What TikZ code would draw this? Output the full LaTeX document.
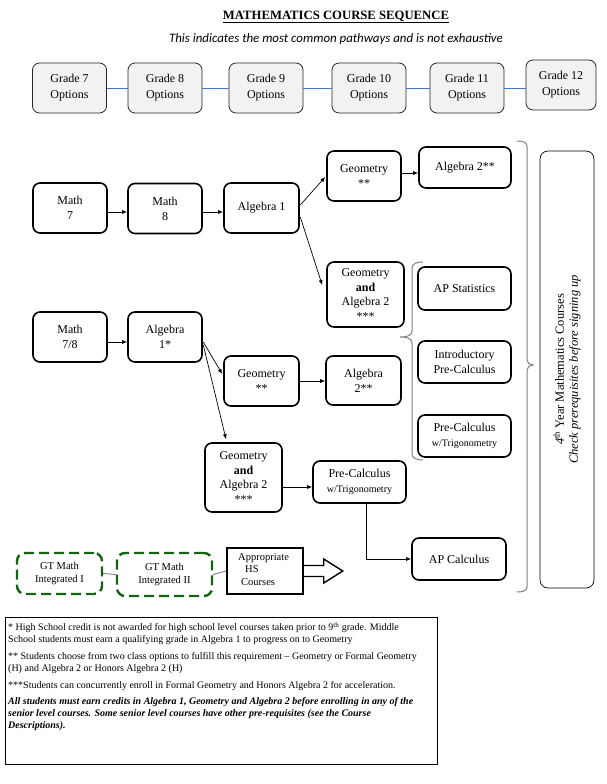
\documentclass[tikz,border=0pt]{standalone}
\usepackage{fontspec}
\setmainfont{Liberation Serif}
\newfontfamily\calibri{Carlito}
\usetikzlibrary{arrows.meta,calc}
\definecolor{gtgreen}{RGB}{20,100,20}
\definecolor{linkblue}{RGB}{68,114,196}
\begin{document}
\begin{tikzpicture}[x=1pt,y=-1pt,
  course/.style={draw, line width=1.6pt, rounded corners=7pt, fill=white, align=center, inner sep=0pt, font=\fontsize{12}{15}\selectfont},
  grade/.style={draw=black!85, line width=0.8pt, rounded corners=7pt, fill=gray!10, align=center, inner sep=0pt, minimum width=74pt, minimum height=50pt, font=\fontsize{12}{16}\selectfont},
  arr/.style={-{Latex[length=5pt,width=4pt]}, line width=0.7pt},
  gtbox/.style={draw=gtgreen, line width=2.4pt, dash pattern=on 10pt off 5pt, rounded corners=8pt, align=center, inner sep=0pt, font=\fontsize{10.5}{13}\selectfont},
  bracepath/.style={draw=gray, line width=1pt},
  link/.style={draw=linkblue, line width=0.9pt},
  glink/.style={draw=gray, line width=0.9pt}]
\fill[white] (0,0) rectangle (607,784);
\useasboundingbox (0,0) rectangle (607,784);

% title
\node[font=\fontsize{12.7}{14}\selectfont\bfseries] (title) at (336,17) {\underline{MATHEMATICS COURSE SEQUENCE}};
\node[font=\fontsize{12.9}{14}\selectfont\calibri\itshape] (sub) at (336,39) {This indicates the most common pathways and is not exhaustive};

% grade row
\node[grade] (g7) at (69.5,88) {Grade 7\\Options};
\node[grade] (g8) at (165,88) {Grade 8\\Options};
\node[grade] (g9) at (266,88) {Grade 9\\Options};
\node[grade] (g10) at (369,88) {Grade 10\\Options};
\node[grade] (g11) at (467,88) {Grade 11\\Options};
\node[grade, minimum width=70pt] (g12) at (561,85) {Grade 12\\Options};
\draw[link] (g7.east) -- (g8.west);
\draw[link] (g8.east) -- (g9.west);
\draw[link] (g9.east) -- (g10.west);
\draw[link] (g10.east) -- (g11.west);
\draw[link] (g11.east) -- (g11.east -| g12.west);

% upper path
\node[course, minimum width=74pt, minimum height=50pt] (m7) at (70,208) {Math\\7};
\node[course, minimum width=74pt, minimum height=50pt] (m8) at (165,208.5) {Math\\8};
\node[course, minimum width=75pt, minimum height=50pt] (a1) at (261.5,208) {Algebra 1};
\node[course, minimum width=74pt, minimum height=50pt] (geo1) at (364,176) {Geometry\\**};
\node[course, minimum width=92pt, minimum height=41pt] (alg2a) at (465,167.5) {Algebra 2**};
\node[course, minimum width=77pt, minimum height=65pt, font=\fontsize{12}{14.5}\selectfont] (ga2a) at (365.5,294.5) {Geometry\\\textbf{and}\\Algebra 2\\***};
\node[course, minimum width=93pt, minimum height=43pt] (apstat) at (464.5,288.5) {AP Statistics};
\node[course, minimum width=93pt, minimum height=42pt] (intro) at (464.5,362) {Introductory\\Pre-Calculus};
\node[course, minimum width=93pt, minimum height=42pt] (pcr) at (464.5,436) {Pre-Calculus\\{\fontsize{10}{12}\selectfont w/Trigonometry}};

% lower path
\node[course, minimum width=74pt, minimum height=50pt] (m78) at (70,337) {Math\\7/8};
\node[course, minimum width=74pt, minimum height=50pt] (a1s) at (165,337) {Algebra\\1*};
\node[course, minimum width=75pt, minimum height=50pt] (geo2) at (261.5,381) {Geometry\\**};
\node[course, minimum width=75pt, minimum height=49pt] (alg2b) at (363.5,380.5) {Algebra\\2**};
\node[course, minimum width=77pt, minimum height=69pt, font=\fontsize{12}{14.5}\selectfont] (ga2b) at (243.5,477.5) {Geometry\\\textbf{and}\\Algebra 2\\***};
\node[course, minimum width=93pt, minimum height=42pt] (pcl) at (359.5,482) {Pre-Calculus\\{\fontsize{10}{12}\selectfont w/Trigonometry}};
\node[course, minimum width=94pt, minimum height=42pt] (apcalc) at (459,559) {AP Calculus};

% arrows
\draw[arr] ([yshift=-4pt]m7.east) -- ([yshift=-4pt]m7.east -| m8.west);
\draw[arr] ([yshift=-3.5pt]m8.east) -- ([yshift=-3.5pt]m8.east -| a1.west);
\draw[arr] ([xshift=0.5pt,yshift=3pt]a1.east) -- ([xshift=-1pt,yshift=-1pt]geo1.west);
\draw[arr] ([xshift=0.5pt,yshift=-9pt]a1.east) -- ([xshift=-4pt,yshift=9.5pt]ga2a.west);
\draw[arr] ([yshift=3pt]geo1.east) -- ([yshift=3pt]geo1.east -| alg2a.west);
\draw[arr] ([yshift=-5pt]m78.east) -- ([yshift=-5pt]m78.east -| a1s.west);
\draw[arr] ([xshift=0.5pt,yshift=-5pt]a1s.east) -- ([xshift=-1pt,yshift=7pt]geo2.west);
\draw[arr] ([xshift=0.5pt,yshift=-8pt]a1s.east) -- ([xshift=-17.5pt,yshift=3pt]ga2b.north);
\draw[arr] (geo2.east) -- (geo2.east -| alg2b.west);
\draw[arr] ([yshift=-9.5pt]ga2b.east) -- ([yshift=-9.5pt]ga2b.east -| pcl.west);
\draw[arr] ([xshift=6.5pt]pcl.south) |- (apcalc.west);

% braces
\draw[bracepath] (423,262) to[out=180,in=90] (412,268) -- (412,331) to[out=-90,in=0] (400,337) to[out=0,in=90] (412,343) -- (412,454) to[out=-90,in=180] (423,460);
\draw[bracepath] (517,141) to[out=0,in=90] (527,146) -- (527,360) to[out=-90,in=180] (533,365) to[out=180,in=90] (527,370) -- (527,587) to[out=-90,in=0] (517,592);

% 4th year box
\node[draw, line width=0.7pt, rounded corners=8pt, minimum width=54pt, minimum height=437pt, inner sep=0pt] (y4) at (567,369.5) {};
\node[rotate=90, align=center, font=\fontsize{12.5}{14}\selectfont] (y4t) at (y4.center) {\textit{4}\textsuperscript{th} Year Mathematics Courses\\\textit{Check prerequisites before signing up}};

% GT row
\node[gtbox, minimum width=85pt, minimum height=41pt] (gt1) at (59.5,573.5) {GT Math\\Integrated I};
\node[gtbox, minimum width=95pt, minimum height=43pt] (gt2) at (164.5,574.5) {GT Math\\Integrated II};
\node[draw, line width=1.5pt, minimum width=76pt, minimum height=46pt, inner sep=0pt] (hs) at (265,571) {};
\node[align=left, font=\fontsize{10.5}{12.5}\selectfont, anchor=north west, inner sep=0pt] (hst) at (238,553) {Appropriate\\\hspace{7pt}HS\\\hspace{3pt}Courses};
\draw[line width=1.4pt, line join=miter] ([yshift=5.5pt]hs.east) -- ++(20,0) -- ++(0,-6.5) -- ++(19,12) -- ++(-19,12) -- ++(0,-6.5) -- ++(-20,0);
\draw[glink] (gt1.east) -- (gt2.west);
\draw[glink] (gt2.east) -- (hs.west);

% footnote
\node[draw, line width=1pt, minimum width=432pt, minimum height=147pt, inner sep=0pt] (fn) at (221,690.5) {};
\node[anchor=north west, align=left, inner sep=0pt, font=\fontsize{10}{11.7}\selectfont] (fnt) at (8,622) {%
* High School credit is not awarded for high school level courses taken prior to 9\textsuperscript{th} grade. Middle\\
School students must earn a qualifying grade in Algebra 1 to progress on to Geometry\\[5.5pt]
** Students choose from two class options to fulfill this requirement -- Geometry or Formal Geometry\\
(H) and Algebra 2 or Honors Algebra 2 (H)\\[5.5pt]
***Students can concurrently enroll in Formal Geometry and Honors Algebra 2 for acceleration.\\[4.5pt]
\textbf{\textit{All students must earn credits in Algebra 1, Geometry and Algebra 2 before enrolling in any of the}}\\
\textbf{\textit{senior level courses. Some senior level courses have other pre-requisites (see the Course}}\\
\textbf{\textit{Descriptions).}}};
\end{tikzpicture}
\end{document}
